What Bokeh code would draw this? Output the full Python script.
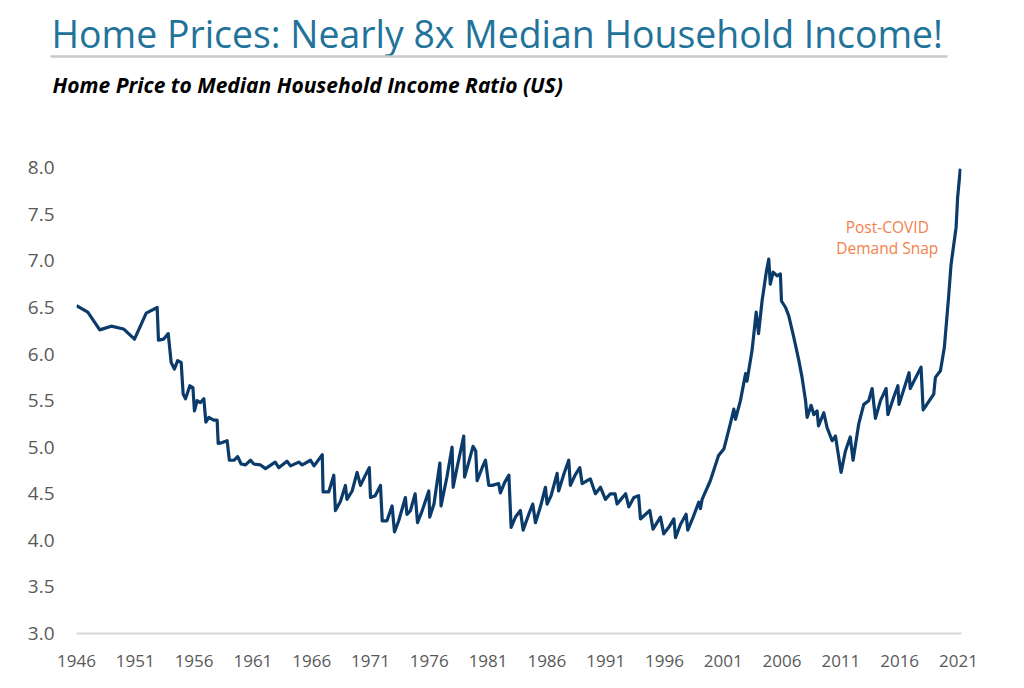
from bokeh.plotting import figure
from bokeh.layouts import column
from bokeh.models import Range1d, FixedTicker, PrintfTickFormatter, ColumnDataSource
from bokeh.core.properties import value
from bokeh.embed import file_html
from bokeh.resources import INLINE

# ---- data ----
years = [
    1946.0, 1946.96, 1947.98, 1948.95, 1950.0, 1950.93, 1951.93, 1952.86, 1952.97, 1953.4,
    1953.8, 1954.05, 1954.33, 1954.6, 1954.9, 1955.07, 1955.27, 1955.64, 1955.9, 1956.03,
    1956.26, 1956.54, 1956.83, 1957.0, 1957.25, 1957.67, 1957.96, 1958.05, 1958.39, 1958.81,
    1959.0, 1959.4, 1959.7, 1960.0, 1960.37, 1960.8, 1961.08, 1961.65, 1962.07, 1962.9,
    1963.2, 1963.9, 1964.2, 1964.9, 1965.2, 1965.9, 1966.2, 1966.9, 1966.97, 1967.45,
    1967.88, 1968.02, 1968.45, 1968.87, 1969.0, 1969.44, 1969.86, 1970.15, 1970.57, 1970.9,
    1971.0, 1971.4, 1971.85, 1972.0, 1972.4, 1972.84, 1973.04, 1973.4, 1973.97, 1974.1,
    1974.4, 1974.8, 1975.0, 1975.4, 1975.96, 1976.04, 1976.4, 1976.9, 1977.0, 1977.5,
    1977.94, 1978.03, 1978.36, 1978.93, 1979.0, 1979.36, 1979.72, 1979.95, 1980.07, 1980.5,
    1980.78, 1981.06, 1981.35, 1981.9, 1982.05, 1982.4, 1982.77, 1982.96, 1983.33, 1983.75,
    1983.98, 1984.46, 1984.8, 1985.03, 1985.45, 1985.88, 1986.02, 1986.36, 1986.87, 1987.0,
    1987.44, 1987.86, 1988.0, 1988.4, 1988.8, 1989.0, 1989.4, 1989.7, 1990.13, 1990.56,
    1990.98, 1991.4, 1991.8, 1991.97, 1992.3, 1992.7, 1992.97, 1993.4, 1993.8, 1993.96,
    1994.4, 1994.75, 1995.03, 1995.37, 1995.66, 1995.94, 1996.37, 1996.8, 1996.94, 1997.36,
    1997.84, 1997.98, 1998.44, 1998.92, 1999.06, 1999.2, 1999.9, 2000.6, 2001.05, 2001.6,
    2001.9, 2002.04, 2002.46, 2002.9, 2003.02, 2003.45, 2003.8, 2004.0, 2004.3, 2004.67,
    2004.87, 2005.0, 2005.24, 2005.58, 2005.86, 2005.95, 2006.3, 2006.57, 2007.0, 2007.43,
    2007.7, 2008.0, 2008.13, 2008.47, 2008.7, 2008.98, 2009.1, 2009.55, 2009.83, 2010.26,
    2010.54, 2011.02, 2011.39, 2011.8, 2012.04, 2012.52, 2012.95, 2013.37, 2013.66, 2013.94,
    2014.37, 2014.85, 2015.0, 2015.5, 2015.85, 2015.95, 2016.8, 2016.9, 2017.82, 2018.0,
    2018.9, 2019.04, 2019.47, 2019.8, 2020.16, 2020.37, 2020.8, 2020.93, 2021.16,
]
ratio = [
    6.52, 6.45, 6.26, 6.30, 6.27, 6.16, 6.44, 6.50, 6.15, 6.16,
    6.22, 5.91, 5.84, 5.93, 5.91, 5.57, 5.52, 5.66, 5.64, 5.39,
    5.50, 5.48, 5.52, 5.27, 5.32, 5.29, 5.29, 5.04, 5.05, 5.07,
    4.86, 4.86, 4.90, 4.82, 4.81, 4.86, 4.82, 4.81, 4.77, 4.84,
    4.78, 4.85, 4.80, 4.84, 4.81, 4.86, 4.80, 4.92, 4.52, 4.52,
    4.70, 4.32, 4.42, 4.59, 4.44, 4.53, 4.73, 4.59, 4.70, 4.78,
    4.46, 4.48, 4.59, 4.21, 4.21, 4.37, 4.09, 4.21, 4.46, 4.28,
    4.32, 4.50, 4.19, 4.32, 4.53, 4.25, 4.39, 4.83, 4.37, 4.68,
    5.00, 4.57, 4.78, 5.12, 4.68, 4.84, 5.01, 4.96, 4.64, 4.78,
    4.86, 4.59, 4.59, 4.61, 4.51, 4.62, 4.70, 4.14, 4.25, 4.32,
    4.11, 4.28, 4.39, 4.19, 4.36, 4.57, 4.39, 4.48, 4.72, 4.53,
    4.71, 4.86, 4.59, 4.70, 4.78, 4.61, 4.64, 4.66, 4.50, 4.57,
    4.44, 4.50, 4.50, 4.39, 4.44, 4.50, 4.36, 4.46, 4.48, 4.23,
    4.28, 4.32, 4.12, 4.19, 4.25, 4.07, 4.14, 4.23, 4.03, 4.17,
    4.28, 4.11, 4.25, 4.41, 4.34, 4.44, 4.64, 4.91, 4.98, 5.25,
    5.41, 5.30, 5.50, 5.79, 5.71, 6.04, 6.45, 6.22, 6.57, 6.89,
    7.02, 6.75, 6.88, 6.84, 6.86, 6.57, 6.50, 6.41, 6.18, 5.93,
    5.75, 5.50, 5.32, 5.45, 5.35, 5.39, 5.23, 5.37, 5.21, 5.07,
    5.12, 4.73, 4.96, 5.11, 4.86, 5.25, 5.46, 5.50, 5.63, 5.31,
    5.50, 5.63, 5.35, 5.54, 5.66, 5.46, 5.80, 5.63, 5.86, 5.40,
    5.57, 5.75, 5.82, 6.07, 6.61, 6.96, 7.36, 7.68, 7.99,
]
x_tick_years = [1946, 1951, 1956, 1961, 1966, 1971, 1976, 1981, 1986, 1991, 1996, 2001, 2006, 2011, 2016, 2021]
y_ticks = [3.0, 3.5, 4.0, 4.5, 5.0, 5.5, 6.0, 6.5, 7.0, 7.5, 8.0]

title_text = "Home Prices: Nearly 8x Median Household Income!"
subtitle_text = "Home Price to Median Household Income Ratio (US)"
note_lines = ["Post-COVID", "Demand Snap"]

# ---- layout constants (pixels) ----
W = 1000
HEAD_H = 150
MAIN_H = 530
BL, BR, BT, BB = 76, 39, 8, 47
X0, X1 = 1946.0, 2021.26
Y0, Y1 = 3.0, 8.1
FH = MAIN_H - BT - BB

def py2y(py):  # page pixel -> data y of main chart
    return Y0 + (HEAD_H + MAIN_H - BB - py) * (Y1 - Y0) / FH

# ---- header (title, rule, subtitle), in pixel coordinates ----
head = figure(width=W, height=HEAD_H, output_backend="svg", toolbar_location=None,
              title=None, x_axis_location=None, y_axis_location=None,
              x_range=Range1d(0, W), y_range=Range1d(HEAD_H, 0),
              min_border=0, min_border_left=0, min_border_right=0,
              min_border_top=0, min_border_bottom=0)
head.frame_align = False
head.grid.visible = False
head.outline_line_color = None
head.text(x=[51], y=[33], text=[title_text], text_font=value("Open Sans"),
          text_font_size="37.4px", text_color="#21739A", text_baseline="alphabetic",
          text_align="left")
head.segment(x0=[50], y0=[56], x1=[947], y1=[56], line_color="#C8C8C8", line_width=2.5)
head.text(x=[52], y=[84], text=[subtitle_text], text_font=value("Open Sans"),
          text_font_size="21px", text_font_style="bold italic", text_color="black",
          text_baseline="alphabetic", text_align="left")

# ---- main chart ----
p = figure(width=W, height=MAIN_H, output_backend="svg", toolbar_location=None,
           x_range=Range1d(X0, X1), y_range=Range1d(Y0, Y1),
           min_border_left=BL, min_border_right=BR, min_border_top=BT, min_border_bottom=BB)
p.frame_align = False
p.outline_line_color = None
p.xgrid.visible = False
p.ygrid.visible = False

src = ColumnDataSource(dict(x=years, y=ratio))
p.line("x", "y", source=src, line_color="#0B3B6A", line_width=3.2, line_join="round")

TICK_COLOR = "#595959"
xa = p.xaxis[0]
xa.ticker = FixedTicker(ticks=x_tick_years)
xa.axis_line_color = "#D9D9D9"
xa.axis_line_width = 2
xa.major_tick_line_color = None
xa.minor_tick_line_color = None
xa.major_tick_in = 0
xa.major_tick_out = 0
xa.minor_tick_out = 0
xa.major_label_standoff = 21
xa.major_label_text_font = "Open Sans"
xa.major_label_text_font_size = "17px"
xa.major_label_text_color = TICK_COLOR

ya = p.yaxis[0]
ya.ticker = FixedTicker(ticks=y_ticks)
ya.formatter = PrintfTickFormatter(format="%.1f")
ya.axis_line_color = None
ya.major_tick_line_color = None
ya.minor_tick_line_color = None
ya.major_tick_in = 0
ya.major_tick_out = 0
ya.minor_tick_out = 0
ya.major_label_standoff = 22
ya.major_label_text_font = "Open Sans"
ya.major_label_text_font_size = "19px"
ya.major_label_text_color = TICK_COLOR

# ---- annotation ----
note_x = [2014.95, 2014.95]
note_y = [py2y(226), py2y(247)]
p.text(x=note_x, y=note_y, text=note_lines, text_font=value("Open Sans"),
       text_font_size="15.5px", text_color="#F4804C", text_align="center",
       text_baseline="alphabetic")

open("out.html", "w").write(file_html(column(head, p), INLINE))
